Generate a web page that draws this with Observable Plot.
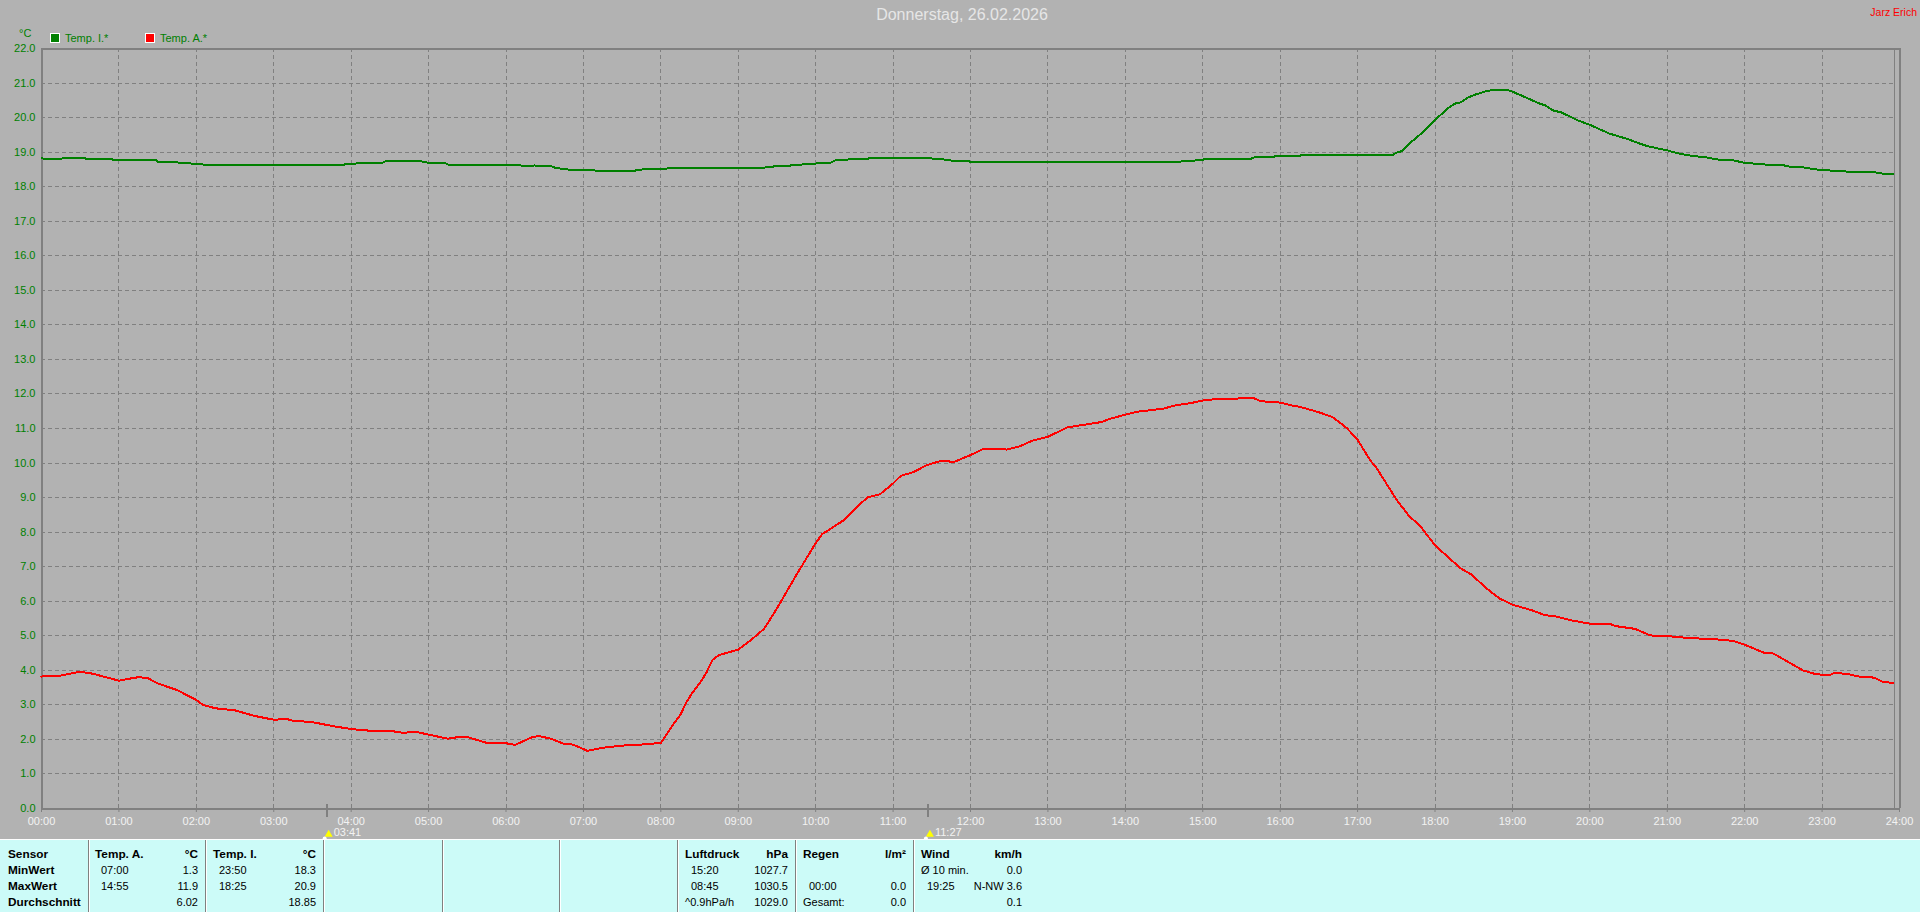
<!DOCTYPE html>
<html><head><meta charset="utf-8">
<script src="https://cdn.jsdelivr.net/npm/d3@7"></script>
<script src="https://cdn.jsdelivr.net/npm/@observablehq/plot@0.6"></script>
<style>
html,body{margin:0;padding:0;background:#b2b2b2;width:1920px;height:912px;overflow:hidden}
body{position:relative;font-family:"Liberation Sans",Arial,sans-serif}
#chart{position:absolute;left:0;top:0}
#chart svg{background:#b2b2b2;display:block}
.t{position:absolute;white-space:nowrap;line-height:14px}
#panel{position:absolute;left:0;top:839px;width:1920px;height:73px;background:#ccfbf8;border-top:1px solid #fff;box-sizing:border-box;font-size:11px;color:#000}
#panel .d{position:absolute;top:0;bottom:0;width:1px;background:#808080;border-right:1px solid #fff}
#panel .b{font-weight:bold;font-size:11.8px}
.sw{position:absolute;width:8px;height:8px;border:1px solid #fff}
</style></head><body>
<div id="chart"></div>
<div id="panel"></div>
<script>
const title = "Donnerstag, 26.02.2026";
const author = "Jarz Erich";
const unit = "°C";

const tempATimes = ["00:00","00:15","00:30","00:40","00:45","01:00","01:10","01:15","01:22","01:30","01:45","02:00","02:05","02:15","02:30","02:45","03:00","03:10","03:15","03:30","03:45","04:00","04:15","04:30","04:40","04:50","05:00","05:15","05:25","05:30","05:45","06:00","06:07","06:20","06:25","06:35","06:45","06:52","07:03","07:15","07:30","07:45","08:00","08:05","08:10","08:15","08:20","08:25","08:30","08:35","08:40","08:45","09:00","09:10","09:20","09:30","09:45","10:00","10:05","10:15","10:22","10:30","10:40","10:50","11:00","11:06","11:16","11:26","11:38","11:47","12:00","12:10","12:20","12:28","12:38","12:48","13:00","13:15","13:30","13:42","13:48","14:00","14:10","14:15","14:30","14:40","14:50","15:00","15:10","15:15","15:30","15:40","15:45","16:00","16:10","16:15","16:30","16:40","16:45","16:52","17:00","17:10","17:15","17:30","17:40","17:48","18:00","18:10","18:20","18:28","18:40","18:50","19:00","19:15","19:25","19:35","19:45","20:00","20:15","20:20","20:35","20:45","20:50","21:00","21:15","21:30","21:45","21:52","22:00","22:15","22:22","22:30","22:45","22:53","23:00","23:05","23:10","23:20","23:30","23:40","23:47","23:55"];
const tempAValues = [3.82,3.85,3.96,3.9,3.85,3.7,3.77,3.8,3.78,3.62,3.43,3.14,3.0,2.9,2.84,2.68,2.57,2.59,2.54,2.5,2.39,2.3,2.25,2.25,2.19,2.22,2.14,2.02,2.08,2.07,1.9,1.89,1.84,2.06,2.1,2.02,1.87,1.85,1.67,1.76,1.82,1.85,1.9,2.17,2.46,2.7,3.09,3.38,3.62,3.91,4.3,4.44,4.6,4.88,5.2,5.79,6.76,7.68,7.94,8.18,8.35,8.66,9.0,9.1,9.41,9.63,9.74,9.94,10.07,10.03,10.23,10.41,10.41,10.39,10.48,10.65,10.76,11.03,11.12,11.19,11.28,11.4,11.49,11.51,11.58,11.68,11.73,11.81,11.85,11.86,11.87,11.87,11.79,11.75,11.66,11.63,11.47,11.34,11.21,11.0,10.67,10.07,9.84,8.95,8.46,8.2,7.62,7.28,6.95,6.78,6.37,6.08,5.9,5.74,5.6,5.55,5.45,5.35,5.35,5.28,5.2,5.04,4.99,4.99,4.94,4.91,4.88,4.84,4.74,4.51,4.49,4.32,4.0,3.91,3.87,3.85,3.93,3.89,3.81,3.79,3.67,3.63];

const tempITimes = ["00:00","00:04","00:15","00:16","00:34","00:35","00:55","00:56","01:29","01:30","01:45","01:46","01:55","01:56","02:04","02:05","03:55","03:56","04:04","04:05","04:25","04:26","04:55","05:00","05:14","05:15","06:09","06:12","06:15","06:20","06:22","06:25","06:35","06:38","06:43","06:47","06:54","07:08","07:10","07:40","07:41","07:46","08:04","08:05","09:20","09:21","09:25","09:28","09:39","09:41","09:48","09:51","10:00","10:02","10:12","10:15","10:24","10:25","10:40","10:41","11:30","11:32","11:39","11:41","11:59","12:00","14:40","14:45","15:00","15:01","15:37","15:40","15:55","15:56","16:15","16:16","17:27","17:30","17:35","17:40","17:45","17:50","18:00","18:10","18:15","18:20","18:25","18:30","18:40","18:47","18:55","19:00","19:10","19:20","19:25","19:32","19:38","19:50","20:00","20:15","20:30","20:37","20:45","21:00","21:10","21:20","21:30","21:40","21:50","22:00","22:10","22:20","22:30","22:37","22:45","22:55","23:00","23:15","23:25","23:40","23:47","23:55"];
const tempIValues = [18.83,18.79,18.79,18.82,18.82,18.79,18.79,18.76,18.76,18.72,18.72,18.69,18.69,18.67,18.67,18.64,18.64,18.67,18.67,18.7,18.7,18.73,18.73,18.69,18.67,18.64,18.64,18.61,18.59,18.59,18.62,18.59,18.59,18.55,18.52,18.5,18.48,18.48,18.45,18.45,18.48,18.5,18.5,18.53,18.53,18.56,18.56,18.59,18.59,18.62,18.62,18.67,18.67,18.7,18.7,18.76,18.76,18.79,18.79,18.82,18.82,18.79,18.79,18.76,18.75,18.71,18.71,18.74,18.77,18.8,18.8,18.85,18.85,18.88,18.88,18.91,18.91,18.98,19.04,19.25,19.4,19.56,19.93,20.27,20.4,20.44,20.57,20.65,20.77,20.81,20.81,20.75,20.59,20.42,20.36,20.2,20.15,19.93,19.79,19.54,19.37,19.27,19.17,19.05,18.95,18.89,18.85,18.78,18.77,18.69,18.66,18.63,18.62,18.56,18.56,18.5,18.48,18.45,18.42,18.42,18.38,18.36];

const seriesNames = ["Temp. I.*","Temp. A.*"];
const seriesColors = ["#008000","#ff0000"];
const sunTimes = ["03:41","11:27"];
const nowTime = "23:56";

const panelHeads = [
  ["Temp. A.","°C"],["Temp. I.","°C"],["Luftdruck","hPa"],["Regen","l/m²"],["Wind","km/h"]
];
const rowLabels = ["Sensor","MinWert","MaxWert","Durchschnitt"];
const tempARows = [["07:00","1.3"],["14:55","11.9"],["","6.02"]];
const tempIRows = [["23:50","18.3"],["18:25","20.9"],["","18.85"]];
const pressureRows = [["15:20","1027.7"],["08:45","1030.5"],["^0.9hPa/h","1029.0"]];
const rainRows = [["",""],["00:00","0.0"],["Gesamt:","0.0"]];
const windRows = [["Ø 10 min.","0.0"],["19:25","N-NW 3.6"],["","0.1"]];

const toMin = s => { const [h,m] = s.split(":").map(Number); return h*60+m; };
const fmt = m => String(Math.floor(m/60)).padStart(2,"0")+":"+String(m%60).padStart(2,"0");
const toRows = (ts,vs) => ts.map((t,i)=>({t:toMin(t),v:vs[i]}));
const hours = d3.range(0,1441,60);
const suns = sunTimes.map(s=>({t:toMin(s),label:s}));
const FONT = '"Liberation Sans",Arial,sans-serif';

const plot = Plot.plot({
  width:1920,height:840,marginTop:48,marginBottom:32,marginLeft:41,marginRight:21,
  style:{background:"#b2b2b2",fontFamily:FONT,fontSize:"11px",overflow:"visible"},
  x:{domain:[0,1440],range:[41,1899],axis:null},
  y:{domain:[0,22],axis:null},
  marks:[
    Plot.ruleY(d3.range(1,22),{x1:0,x2:toMin(nowTime),stroke:"#808080",strokeWidth:1,strokeDasharray:"4 3",shapeRendering:"crispEdges"}),
    Plot.ruleX(hours.slice(1,-1),{y1:0,y2:22,stroke:"#808080",strokeWidth:1,strokeDasharray:"4 3",shapeRendering:"crispEdges"}),
    Plot.ruleX([toMin(nowTime)],{y1:0,y2:22,stroke:"#808080",strokeWidth:1,shapeRendering:"crispEdges"}),
    Plot.axisX({ticks:hours,tickFormat:fmt,tickSize:4,tickPadding:5,stroke:"#808080",fill:"#f2f2f2",label:null,anchor:"bottom",fontSize:11}),
    Plot.axisY({ticks:d3.range(0,23),tickFormat:d=>d.toFixed(1),tickSize:0,tickPadding:6,fill:"#008000",label:null,anchor:"left",fontSize:11}),
    Plot.ruleY([0,22],{stroke:"#808080",strokeWidth:2,shapeRendering:"crispEdges"}),
    Plot.ruleX([0,1440],{y1:0,y2:22,stroke:"#808080",strokeWidth:2,shapeRendering:"crispEdges"}),
    Plot.line(toRows(tempITimes,tempIValues),{x:"t",y:"v",stroke:seriesColors[0],strokeWidth:2,strokeLinejoin:"miter",shapeRendering:"crispEdges"}),
    Plot.line(toRows(tempATimes,tempAValues),{x:"t",y:"v",stroke:seriesColors[1],strokeWidth:2,strokeLinejoin:"miter",shapeRendering:"crispEdges"}),
    Plot.ruleX(suns,{x:"t",y1:0.12,y2:-0.25,stroke:"#808080",strokeWidth:2,shapeRendering:"crispEdges"}),
    Plot.text(suns,{x:"t",text:"label",frameAnchor:"bottom",dy:27,dx:7,textAnchor:"start",fill:"#f2f2f2",fontSize:11}),
    Plot.dot(suns,{x:"t",frameAnchor:"bottom",dy:26,dx:2,r:3,symbol:"triangle",fill:"#ffff00"}),
    Plot.dot(suns,{x:"t",frameAnchor:"bottom",dy:30,dx:-2,r:2,fill:"#ffffff"})
  ]
});
document.getElementById("chart").appendChild(plot);

function put(parent,text,o){
  const e=document.createElement("div");
  e.className="t "+(o.cls||"");
  e.textContent=text;
  Object.assign(e.style,o.style||{});
  parent.appendChild(e);
  return e;
}
const body=document.body;
put(body,title,{style:{left:"0",width:"1920px",top:"8px",textAlign:"center",color:"#e6e6e6",fontSize:"16px",paddingLeft:"2px"}});
put(body,author,{style:{right:"3px",top:"5px",color:"#ff0000",fontSize:"10.5px"}});
put(body,unit,{style:{left:"19px",top:"26px",color:"#008000",fontSize:"11px"}});
[50,145].forEach((x,i)=>{
  const s=document.createElement("div");s.className="sw";
  s.style.left=x+"px";s.style.top="33px";s.style.background=seriesColors[i];
  body.appendChild(s);
  put(body,seriesNames[i],{style:{left:(x+15)+"px",top:"31px",color:"#008000",fontSize:"11px"}});
});

const panel=document.getElementById("panel");
[88,205,323,442,559,677,795,913].forEach(x=>{
  const d=document.createElement("div");d.className="d";d.style.left=x+"px";panel.appendChild(d);
});
const rowY=[7,23,39,55];
rowLabels.forEach((l,i)=>put(panel,l,{cls:"b",style:{left:"8px",top:rowY[i]+"px"}}));
const cols=[
  {left:95,inner:101,right:198,rows:tempARows,head:panelHeads[0]},
  {left:213,inner:219,right:316,rows:tempIRows,head:panelHeads[1]},
  {left:685,inner:691,right:788,rows:pressureRows,head:panelHeads[2]},
  {left:803,inner:809,right:906,rows:rainRows,head:panelHeads[3]},
  {left:921,inner:927,right:1022,rows:windRows,head:panelHeads[4]}
];
cols.forEach(c=>{
  put(panel,c.head[0],{cls:"b",style:{left:c.left+"px",top:rowY[0]+"px"}});
  put(panel,c.head[1],{cls:"b",style:{right:(1920-c.right)+"px",top:rowY[0]+"px"}});
  c.rows.forEach((r,i)=>{
    const flush=/^[^0-9]/.test(r[0]);
    if(r[0]) put(panel,r[0],{style:{left:(flush?c.left:c.inner)+"px",top:rowY[i+1]+"px"}});
    if(r[1]) put(panel,r[1],{style:{right:(1920-c.right)+"px",top:rowY[i+1]+"px"}});
  });
});
</script>
</body></html>
